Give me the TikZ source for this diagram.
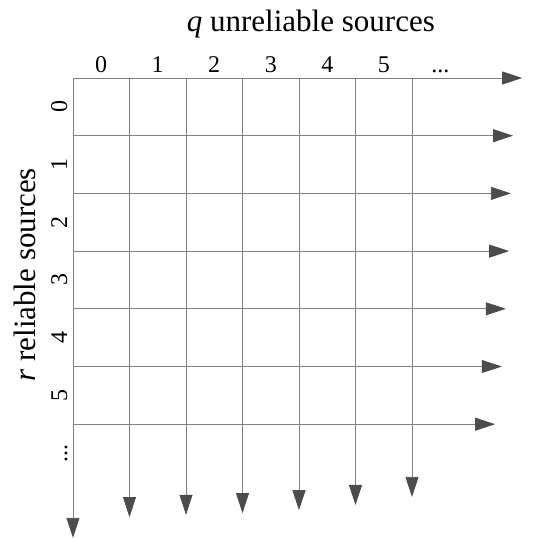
\documentclass[tikz,border=0pt]{standalone}
\usepackage{fontspec}
\setmainfont{Liberation Serif}
\usetikzlibrary{arrows.meta}
\tikzset{
  gridline/.style={draw=black!50, line width=0.8pt},
  gridarrow/.style={gridline, -{Triangle[length=20pt,width=13pt,color=black!70]}},
  idxlabel/.style={font=\fontsize{24}{24}\selectfont, anchor=base, inner sep=0pt},
  axislabel/.style={font=\fontsize{31}{31}\selectfont, anchor=base, inner sep=0pt}
}
\begin{document}
\begin{tikzpicture}[x=56.5pt,y=-57.7pt]
\useasboundingbox (-73pt,78pt) rectangle (461pt,-461pt);

% row starts and arrow ends
\coordinate (r0s) at (0,0);  \coordinate (r0e) at (7.95,0);
\coordinate (r1s) at (0,1);  \coordinate (r1e) at (7.79,1);
\coordinate (r2s) at (0,2);  \coordinate (r2e) at (7.75,2);
\coordinate (r3s) at (0,3);  \coordinate (r3e) at (7.72,3);
\coordinate (r4s) at (0,4);  \coordinate (r4e) at (7.66,4);
\coordinate (r5s) at (0,5);  \coordinate (r5e) at (7.59,5);
\coordinate (r6s) at (0,6);  \coordinate (r6e) at (7.47,6);

% column starts and arrow ends
\coordinate (c0s) at (0,0);  \coordinate (c0e) at (0,7.97);
\coordinate (c1s) at (1,0);  \coordinate (c1e) at (1,7.61);
\coordinate (c2s) at (2,0);  \coordinate (c2e) at (2,7.57);
\coordinate (c3s) at (3,0);  \coordinate (c3e) at (3,7.54);
\coordinate (c4s) at (4,0);  \coordinate (c4e) at (4,7.49);
\coordinate (c5s) at (5,0);  \coordinate (c5e) at (5,7.40);
\coordinate (c6s) at (6,0);  \coordinate (c6e) at (6,7.26);

\draw[gridarrow] (r0s) -- (r0e);
\draw[gridarrow] (r1s) -- (r1e);
\draw[gridarrow] (r2s) -- (r2e);
\draw[gridarrow] (r3s) -- (r3e);
\draw[gridarrow] (r4s) -- (r4e);
\draw[gridarrow] (r5s) -- (r5e);
\draw[gridarrow] (r6s) -- (r6e);

\draw[gridarrow] (c0s) -- (c0e);
\draw[gridarrow] (c1s) -- (c1e);
\draw[gridarrow] (c2s) -- (c2e);
\draw[gridarrow] (c3s) -- (c3e);
\draw[gridarrow] (c4s) -- (c4e);
\draw[gridarrow] (c5s) -- (c5e);
\draw[gridarrow] (c6s) -- (c6e);

% column labels
\node[idxlabel] (q0) at (0.5,-0.104) {0};
\node[idxlabel] (q1) at (1.5,-0.104) {1};
\node[idxlabel] (q2) at (2.5,-0.104) {2};
\node[idxlabel] (q3) at (3.5,-0.104) {3};
\node[idxlabel] (q4) at (4.5,-0.104) {4};
\node[idxlabel] (q5) at (5.5,-0.104) {5};
\node[idxlabel] (q6) at (6.5,-0.104) {...};

% row labels
\node[idxlabel,rotate=90] (p0) at (-0.106,0.5) {0};
\node[idxlabel,rotate=90] (p1) at (-0.106,1.5) {1};
\node[idxlabel,rotate=90] (p2) at (-0.106,2.5) {2};
\node[idxlabel,rotate=90] (p3) at (-0.106,3.5) {3};
\node[idxlabel,rotate=90] (p4) at (-0.106,4.5) {4};
\node[idxlabel,rotate=90] (p5) at (-0.106,5.5) {5};
\node[idxlabel,rotate=90] (p6) at (-0.106,6.5) {...};

% axis titles
\node[axislabel] (qtitle) at (4.21,-0.80) {\textit{q} unreliable sources};
\node[axislabel,rotate=90] (rtitle) at (-0.67,3.41) {\textit{r} reliable sources};

\end{tikzpicture}
\end{document}
